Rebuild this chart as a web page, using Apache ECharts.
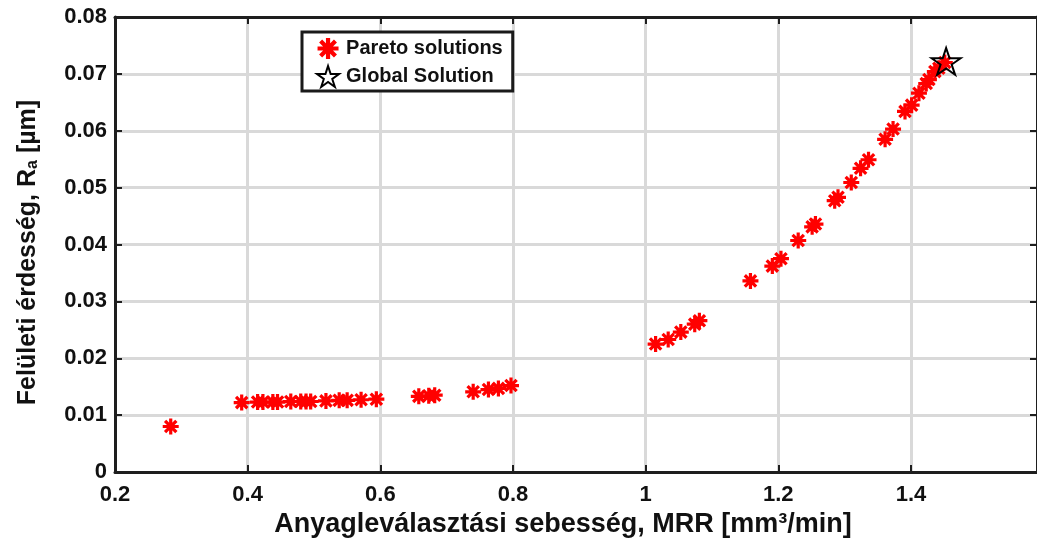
<!DOCTYPE html>
<html>
<head>
<meta charset="utf-8">
<script src="https://cdn.jsdelivr.net/npm/echarts@6/dist/echarts.min.js"></script>
<style>
html,body{margin:0;padding:0;background:#fff;}
#chart{width:1037px;height:546px;}
</style>
</head>
<body>
<div id="chart"></div>
<script>
// ---- data ----
var mrr = [0.284,0.391,0.415,0.423,0.438,0.445,0.465,0.480,0.488,0.495,0.518,0.538,0.550,0.571,0.594,
           0.658,0.673,0.682,0.740,0.763,0.778,0.797,
           1.015,1.034,1.053,1.074,1.081,1.158,1.191,1.204,1.230,1.251,1.256,1.285,1.290,1.310,
           1.324,1.336,1.361,1.373,1.391,1.401,1.412,1.423,1.427,1.436,1.442,1.451];
var ra  = [0.0080,0.0122,0.0123,0.0123,0.0123,0.0123,0.0124,0.0124,0.0124,0.0124,0.0125,0.0126,0.0126,0.0127,0.0128,
           0.0133,0.0134,0.0135,0.0141,0.0145,0.0147,0.0152,
           0.0225,0.0233,0.0246,0.0260,0.0266,0.0336,0.0362,0.0375,0.0407,0.0431,0.0436,0.0477,0.0483,0.0509,
           0.0534,0.0549,0.0585,0.0603,0.0634,0.0645,0.0666,0.0683,0.0690,0.0704,0.0710,0.0720];
var globalMrr = [1.453];
var globalRa = [0.0722];
var seriesNames = ['Pareto solutions', 'Global Solution'];
var xTitle = 'Anyagleválasztási sebesség, MRR [mm³/min]';
var yTitleMain = 'Felületi érdesség, R';
var yTitleSub = 'a';
var yTitleEnd = ' [µm]';

// ---- build ----
var paretoData = mrr.map(function(v,i){return [v, ra[i]];});
var globalData = globalMrr.map(function(v,i){return [v, globalRa[i]];});

var asterisk = 'path://M8.4 2L11.6 2L11.6 18L8.4 18Z M2 8.4L18 8.4L18 11.6L2 11.6Z M3.2 5.5L5.5 3.2L16.8 14.5L14.5 16.8Z M14.5 3.2L16.8 5.5L5.5 16.8L3.2 14.5Z';
var star = 'path://M10 0L12.245 6.91L19.511 6.91L13.633 11.18L15.878 18.09L10 13.82L4.122 18.09L6.367 11.18L0.489 6.91L7.755 6.91Z';

var axisCol = '#1e1e1e';
var gridCol = '#d9d9d9';
var fam = 'Liberation Sans, Arial, sans-serif';

var chart = echarts.init(document.getElementById('chart'), null, {renderer:'canvas'});
chart.setOption({
  animation:false,
  backgroundColor:'#fff',
  grid:{left:115, top:17, width:926, height:455, containLabel:false},
  xAxis:[{
    type:'value', min:0.2, max:1.59, interval:0.2, position:'bottom',
    axisLine:{show:true, onZero:false, lineStyle:{color:axisCol, width:3}},
    axisTick:{show:true, inside:true, length:7, lineStyle:{color:axisCol, width:2}},
    splitLine:{show:true, lineStyle:{color:gridCol, width:3}},
    axisLabel:{margin:12, showMaxLabel:false, fontFamily:fam, fontSize:22, fontWeight:'bold', color:'#111'},
    name:xTitle, nameLocation:'middle', nameGap:39,
    nameTextStyle:{fontFamily:fam, fontWeight:'bold', fontSize:27, color:'#111', verticalAlign:'top', padding:[0,26,0,0]}
  },{
    type:'value', min:0.2, max:1.59, interval:0.2, position:'top',
    axisLine:{show:true, onZero:false, lineStyle:{color:axisCol, width:3}},
    axisTick:{show:true, inside:true, length:7, lineStyle:{color:axisCol, width:2}},
    splitLine:{show:false}, axisLabel:{show:false}
  }],
  yAxis:[{
    type:'value', min:0, max:0.08, interval:0.01, position:'left',
    axisLine:{show:true, onZero:false, lineStyle:{color:axisCol, width:3}},
    axisTick:{show:true, inside:true, length:7, lineStyle:{color:axisCol, width:2}},
    splitLine:{show:true, lineStyle:{color:gridCol, width:3}},
    axisLabel:{margin:8, fontFamily:fam, fontWeight:'bold', fontSize:22, color:'#111',
      formatter:function(v){return v===0?'0':v.toFixed(2);}},
    name:yTitleMain+'{sub|'+yTitleSub+'}'+yTitleEnd, nameLocation:'middle', nameGap:74, nameRotate:90,
    nameTextStyle:{fontFamily:fam, fontWeight:'bold', fontSize:25, color:'#111', padding:[0,16,0,0],
      rich:{sub:{fontFamily:fam, fontWeight:'bold', fontSize:16, color:'#111', verticalAlign:'bottom', padding:[9,0,0,0]}}}
  },{
    type:'value', min:0, max:0.08, interval:0.01, position:'right',
    axisLine:{show:true, onZero:false, lineStyle:{color:axisCol, width:3}},
    axisTick:{show:true, inside:true, length:7, lineStyle:{color:axisCol, width:2}},
    splitLine:{show:false}, axisLabel:{show:false}
  }],
  legend:{
    orient:'vertical', left:302, top:32,
    padding:[6,10,3,14], itemGap:6, itemWidth:26, itemHeight:21,
    backgroundColor:'#fff', borderColor:'#1a1a1a', borderWidth:3, borderRadius:0,
    textStyle:{fontFamily:fam, fontWeight:'bold', fontSize:20, color:'#111'},
    data:[
      {name:seriesNames[0], icon:asterisk, itemStyle:{color:'#ff0000'}},
      {name:seriesNames[1], icon:star, itemStyle:{color:'rgba(0,0,0,0)', borderColor:'#000', borderWidth:2}}
    ]
  },
  series:[{
    name:seriesNames[0], type:'scatter', xAxisIndex:0, yAxisIndex:0,
    data:paretoData, symbol:asterisk, symbolSize:16, symbolKeepAspect:true,
    itemStyle:{color:'#ff0000', opacity:1}, z:2
  },{
    name:seriesNames[1], type:'scatter', xAxisIndex:0, yAxisIndex:0,
    data:globalData, symbol:star, symbolSize:[29,28], symbolKeepAspect:true,
    itemStyle:{color:'rgba(0,0,0,0)', borderColor:'#000', borderWidth:2, opacity:1}, z:3
  }]
});
</script>
</body>
</html>
